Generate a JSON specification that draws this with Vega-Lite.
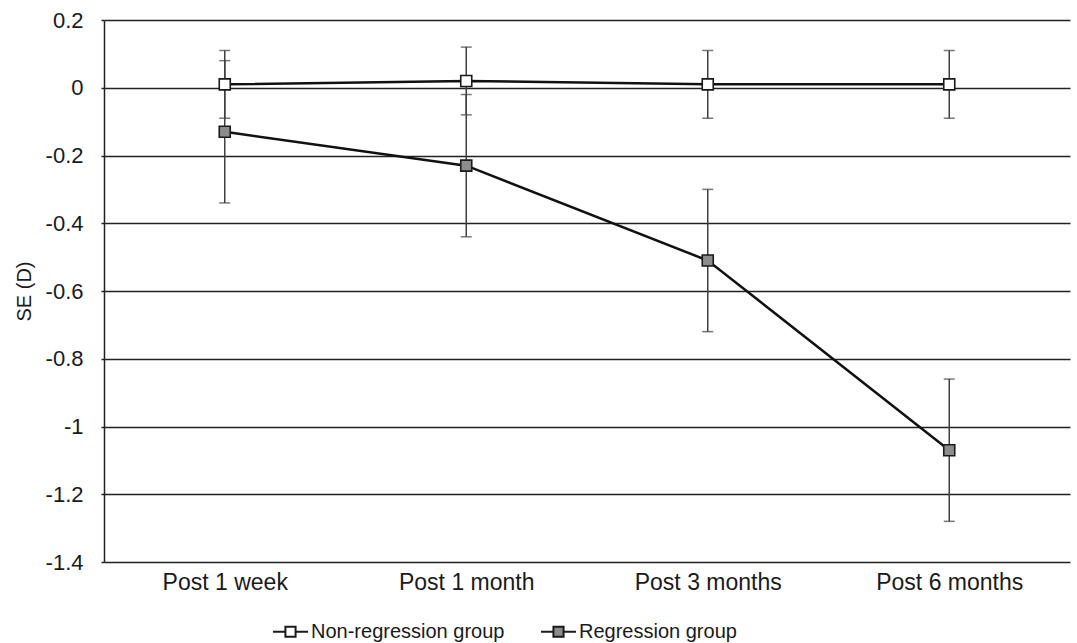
{
  "$schema": "https://vega.github.io/schema/vega-lite/v6.json",
  "width": 966,
  "height": 542,
  "autosize": {"type": "none"},
  "padding": {"left": 104, "top": 20, "right": 7, "bottom": 81},
  "background": "#ffffff",
  "config": {
    "view": {"stroke": null},
    "font": "Liberation Sans",
    "axis": {"labelFont": "Liberation Sans", "titleFont": "Liberation Sans", "labelColor": "#1a1a1a", "titleColor": "#1a1a1a"}
  },
  "data": {
    "values": [
      {"group": "Non-regression group", "time": "Post 1 week", "mean": 0.01, "lo": -0.09, "hi": 0.11},
      {"group": "Non-regression group", "time": "Post 1 month", "mean": 0.02, "lo": -0.08, "hi": 0.12},
      {"group": "Non-regression group", "time": "Post 3 months", "mean": 0.01, "lo": -0.09, "hi": 0.11},
      {"group": "Non-regression group", "time": "Post 6 months", "mean": 0.01, "lo": -0.09, "hi": 0.11},
      {"group": "Regression group", "time": "Post 1 week", "mean": -0.13, "lo": -0.34, "hi": 0.08},
      {"group": "Regression group", "time": "Post 1 month", "mean": -0.23, "lo": -0.44, "hi": -0.02},
      {"group": "Regression group", "time": "Post 3 months", "mean": -0.51, "lo": -0.72, "hi": -0.30},
      {"group": "Regression group", "time": "Post 6 months", "mean": -1.07, "lo": -1.28, "hi": -0.86}
    ]
  },
  "encoding": {
    "x": {
      "field": "time", "type": "nominal",
      "sort": ["Post 1 week", "Post 1 month", "Post 3 months", "Post 6 months"],
      "scale": {"type": "point", "padding": 0.5},
      "axis": {"title": null, "domain": false, "ticks": false, "grid": false, "labelAngle": 0, "labelFontSize": 23, "labelPadding": 9, "labelBaseline": "top"}
    }
  },
  "layer": [
    {
      "mark": {"type": "rule", "color": "#404040", "strokeWidth": 1.5},
      "encoding": {
        "y": {
          "field": "lo", "type": "quantitative",
          "scale": {"domain": [-1.4, 0.2], "nice": false, "zero": false},
          "axis": {
            "title": "SE (D)",
            "values": [0.2, 0, -0.2, -0.4, -0.6, -0.8, -1, -1.2, -1.4],
            "labelExpr": "toString(round(datum.value*10)/10)",
            "labelFontSize": 22,
            "labelPadding": 18,
            "tickSize": 3,
            "tickColor": "#222",
            "tickWidth": 1.5,
            "domainColor": "#222",
            "domainWidth": 1.5,
            "grid": true,
            "gridColor": "#222",
            "gridWidth": 1.5,
            "gridOpacity": 1,
            "titleFontSize": 20,
            "titleFontWeight": "normal",
            "titleAngle": -90,
            "titleAlign": "center",
            "titleBaseline": "middle",
            "titleX": -80,
            "titleY": 271
          }
        },
        "y2": {"field": "hi"}
      }
    },
    {
      "mark": {"type": "tick", "color": "#404040", "thickness": 1.5, "size": 11, "orient": "horizontal"},
      "encoding": {"y": {"field": "lo", "type": "quantitative"}}
    },
    {
      "mark": {"type": "tick", "color": "#404040", "thickness": 1.5, "size": 11, "orient": "horizontal"},
      "encoding": {"y": {"field": "hi", "type": "quantitative"}}
    },
    {
      "mark": {"type": "line", "color": "#111111", "strokeWidth": 2.5},
      "encoding": {
        "y": {"field": "mean", "type": "quantitative"},
        "detail": {"field": "group", "type": "nominal"}
      }
    },
    {
      "mark": {"type": "point", "shape": "square", "filled": true, "size": 121, "stroke": "#1a1a1a", "strokeWidth": 1.6, "opacity": 1},
      "encoding": {
        "y": {"field": "mean", "type": "quantitative"},
        "fill": {
          "field": "group", "type": "nominal",
          "scale": {"domain": ["Non-regression group", "Regression group"], "range": ["#ffffff", "#8c8c8c"]},
          "legend": {
            "title": null,
            "orient": "none",
            "direction": "horizontal",
            "legendX": 168,
            "legendY": 593,
            "padding": 0,
            "symbolType": "M-1,0L-0.29,0M0.29,0L1,0M-0.29,-0.29L0.29,-0.29L0.29,0.29L-0.29,0.29Z",
            "symbolSize": 1225,
            "symbolStrokeColor": "#1a1a1a",
            "symbolStrokeWidth": 2,
            "symbolOpacity": 1,
            "labelFont": "Liberation Sans",
            "labelFontSize": 20,
            "labelLimit": 0,
            "labelColor": "#1a1a1a",
            "labelOffset": 2,
            "columnPadding": 32
          }
        }
      }
    }
  ]
}
